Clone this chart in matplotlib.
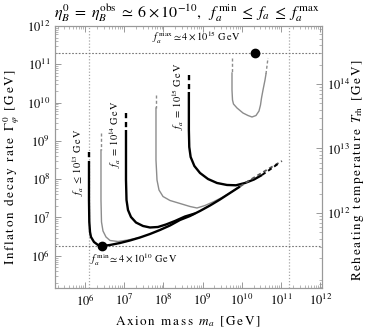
import numpy as np
import matplotlib
matplotlib.use("Agg")
import matplotlib.pyplot as plt
from matplotlib.ticker import LogLocator, LogFormatterMathtext, NullFormatter, FixedLocator

plt.rcParams['font.family'] = ['STIXGeneral', 'DejaVu Serif']
plt.rcParams['mathtext.fontset'] = 'stix'

# ---- data (log10 values) ----
# f_a <= 1e13 GeV (black)
A_top_x = [6.102, 6.102]
A_top_y = [8.710, 8.423]
A_x = [6.102, 6.102, 6.110, 6.128, 6.153, 6.230, 6.332, 6.434, 6.638, 6.893, 7.148, 7.403,
       7.658, 7.913, 8.168, 8.423, 8.679, 8.934, 9.189, 9.444, 9.699, 9.954]
A_y = [8.423, 7.457, 6.883, 6.621, 6.491, 6.360, 6.282, 6.256, 6.282, 6.334, 6.400, 6.478,
       6.569, 6.674, 6.791, 6.935, 7.039, 7.170, 7.313, 7.470, 7.640, 7.809]
A_end_x = [9.954, 10.209, 10.464, 10.719, 11.025]
A_end_y = [7.809, 7.979, 8.136, 8.292, 8.475]

# intermediate f_a (gray)
B_top_x = [6.408, 6.408]
B_top_y = [9.206, 8.762]
B_x = [6.408, 6.408, 6.421, 6.459, 6.536, 6.638, 6.842, 7.097, 7.403]
B_y = [8.762, 7.457, 6.883, 6.648, 6.491, 6.400, 6.373, 6.413, 6.478]

# f_a = 1e14 GeV (black)
C_top_x = [7.046, 7.046]
C_top_y = [9.728, 9.285]
C_x = [7.046, 7.046, 7.059, 7.097, 7.173, 7.301, 7.480, 7.658, 7.862, 8.066, 8.296, 8.551, 8.806]
C_y = [9.285, 7.979, 7.457, 7.196, 7.013, 6.869, 6.778, 6.739, 6.752, 6.817, 6.909, 7.026, 7.104]

# intermediate f_a (gray)
E_top_x = [7.811, 7.811]
E_top_y = [10.198, 9.859]
E_x = [7.811, 7.811, 7.837, 7.888, 7.990, 8.168, 8.423, 8.679, 8.857, 9.061, 9.265, 9.469, 9.699, 9.954]
E_y = [9.859, 8.501, 7.979, 7.718, 7.548, 7.444, 7.366, 7.287, 7.248, 7.313, 7.405, 7.509, 7.640, 7.809]

# f_a = 1e15 GeV (black)
D_top_x = [8.650, 8.650]
D_top_y = [10.721, 10.277]
D_x = [8.650, 8.650, 8.660, 8.695, 8.790, 8.934, 9.138, 9.367, 9.622, 9.852, 10.082, 10.311, 10.515]
D_y = [10.277, 9.285, 8.841, 8.580, 8.345, 8.162, 8.005, 7.901, 7.849, 7.841, 7.901, 7.992, 8.110]
D_end_x = [10.515, 10.719, 10.974]
D_end_y = [8.110, 8.253, 8.436]

# near f_a^max (gray)
F_top1_x = [9.750, 9.750]
F_top1_y = [11.164, 10.773]
F_x = [9.750, 9.750, 9.763, 9.788, 9.878, 10.031, 10.158, 10.260, 10.362, 10.439, 10.477, 10.503,
       10.541, 10.592, 10.617]
F_y = [10.773, 10.329, 10.068, 9.963, 9.859, 9.728, 9.663, 9.624, 9.663, 9.781, 9.937, 10.120,
       10.329, 10.590, 10.747]
F_top2_x = [10.617, 10.668]
F_top2_y = [10.747, 11.164]

dot_max = (10.337, 11.295)
dot_min = (6.434, 6.256)
vlines = [6.102, 11.20]
hlines = [11.295, 6.256]

xlim = (5.235, 12.046)
ylim = (5.159, 12.0)
x_ticks = [6, 7, 8, 9, 10, 11, 12]
y_ticks = [6, 7, 8, 9, 10, 11, 12]
tlim = (10.837, 14.899)
t_ticks = [12, 13, 14]

def sp(s):
    return r'\,'.join(r'\mathrm{%s}' % c for c in s)

fig = plt.figure(figsize=(3.74, 3.36), dpi=100)
ax = fig.add_axes([55/374, 1-288/336, 267/374, 262/336])
ax.set_xscale('log'); ax.set_yscale('log')
ax.set_xlim(10**xlim[0], 10**xlim[1]); ax.set_ylim(10**ylim[0], 10**ylim[1])

def P(x, y):
    return 10**np.asarray(x), 10**np.asarray(y)

gray = '#8c8c8c'
dash = (0, (2.2, 1.6))
# reference lines
for v in vlines:
    ax.axvline(10**v, color='#a8a8a8', ls=(0, (1, 1.5)), lw=0.9, zorder=1)
for h in hlines:
    ax.axhline(10**h, color='#777777', ls=(0, (1.5, 1.5)), lw=0.8, zorder=1)

# gray curves
for tx, ty, cx, cy in [(B_top_x, B_top_y, B_x, B_y), (E_top_x, E_top_y, E_x, E_y)]:
    ax.plot(*P(tx, ty), color=gray, lw=1.0, ls=dash, zorder=2)
    ax.plot(*P(cx, cy), color=gray, lw=1.0, zorder=2)
ax.plot(*P(F_top1_x, F_top1_y), color=gray, lw=1.0, ls=dash, zorder=2)
ax.plot(*P(F_x, F_y), color=gray, lw=1.0, zorder=2)
ax.plot(*P(F_top2_x, F_top2_y), color=gray, lw=1.0, ls=dash, zorder=2)

# black curves
for tx, ty, cx, cy in [(A_top_x, A_top_y, A_x, A_y), (C_top_x, C_top_y, C_x, C_y),
                       (D_top_x, D_top_y, D_x, D_y)]:
    ax.plot(*P(tx, ty), color='black', lw=1.7, ls=(0, (2.2, 1.6)), zorder=3)
    ax.plot(*P(cx, cy), color='black', lw=1.7, zorder=3, solid_capstyle='butt')
ax.plot(*P(A_end_x, A_end_y), color='#555555', lw=1.3, ls=dash, zorder=3)
ax.plot(*P(D_end_x, D_end_y), color='black', lw=1.4, ls=dash, zorder=3)

ax.plot(10**dot_max[0], 10**dot_max[1], 'o', color='black', ms=6, zorder=4)
ax.plot(10**dot_min[0], 10**dot_min[1], 'o', color='black', ms=6, zorder=4)

# texts
GeV = sp('GeV')
ax.text(10**8.857, 10**11.687, r'$f_a^{\,\rm max}\simeq 4\times 10^{15}\ ' + GeV + '$',
        fontsize=7.5, ha='center', va='center')
ax.text(10**6.128, 10**5.89, r'$f_a^{\,\rm min}\simeq 4\times 10^{10}\ ' + GeV + '$',
        fontsize=7.5, ha='left', va='center')
ax.text(10**5.82, 10**8.449, r'$f_a\;\leq\;10^{13}\ ' + GeV + '$', fontsize=7.5,
        rotation=90, ha='center', va='center')
ax.text(10**6.765, 10**9.18, r'$f_a\;=\;10^{14}\ ' + GeV + '$', fontsize=7.5,
        rotation=90, ha='center', va='center')
ax.text(10**8.372, 10**10.17, r'$f_a\;=\;10^{15}\ ' + GeV + '$', fontsize=7.5,
        rotation=90, ha='center', va='center')

fig.text(0.5, 1-13/336,
         r'$\eta_B^{0}\;=\;\eta_B^{\rm obs}\;\simeq\;6\times10^{-10},\ \ f_a^{\,\rm min}\;\leq\;f_a\;\leq\;f_a^{\,\rm max}$',
         fontsize=11.5, ha='center', va='center')

fig.text(188/374, 1-322/336,
         '$' + sp('Axion') + r'\ \ ' + sp('mass') + r'\ \ m_a\ \ ' + sp('[GeV]') + '$',
         fontsize=9.5, ha='center', va='center')
fig.text(12/374, 1-167/336,
         '$' + sp('Inflaton') + r'\ \ ' + sp('decay') + r'\ \ ' + sp('rate') + r'\ \ \Gamma_\varphi^{\,0}\ \ ' + sp('[GeV]') + '$',
         fontsize=9.5, ha='center', va='center', rotation=90)
fig.text(358/374, 1-170/336,
         '$' + sp('Reheating') + r'\ \ ' + sp('temperature') + r'\ \ T_{\rm rh}\ \ ' + sp('[GeV]') + '$',
         fontsize=9.5, ha='center', va='center', rotation=90)

for s in ax.spines.values():
    s.set_color('#999999'); s.set_linewidth(0.8)
ax.xaxis.set_major_locator(FixedLocator([10.0**t for t in x_ticks]))
ax.xaxis.set_minor_locator(LogLocator(base=10, subs=np.arange(2, 10), numticks=20))
ax.yaxis.set_major_locator(FixedLocator([10.0**t for t in y_ticks]))
ax.yaxis.set_minor_locator(LogLocator(base=10, subs=np.arange(2, 10), numticks=20))
ax.xaxis.set_major_formatter(LogFormatterMathtext())
ax.yaxis.set_major_formatter(LogFormatterMathtext())
ax.xaxis.set_minor_formatter(NullFormatter())
ax.yaxis.set_minor_formatter(NullFormatter())
ax.tick_params(which='both', direction='in', color='#999999', labelsize=9, top=True, right=False)
ax.tick_params(which='major', length=4, width=0.7)
ax.tick_params(which='minor', length=2, width=0.5)

ax2 = ax.twinx()
ax2.set_yscale('log')
ax2.set_ylim(10**tlim[0], 10**tlim[1])
ax2.yaxis.set_major_locator(FixedLocator([10.0**t for t in t_ticks]))
ax2.yaxis.set_minor_locator(LogLocator(base=10, subs=np.arange(2, 10), numticks=20))
ax2.yaxis.set_major_formatter(LogFormatterMathtext())
ax2.yaxis.set_minor_formatter(NullFormatter())
ax2.tick_params(which='both', direction='in', color='#999999', labelsize=9)
ax2.tick_params(which='major', length=4, width=0.7)
ax2.tick_params(which='minor', length=2, width=0.5)
ax2.tick_params(axis='x', which='both', labelbottom=False, labeltop=False, bottom=False, top=False)
for s in ax2.spines.values():
    s.set_color('#999999'); s.set_linewidth(0.8)

fig.savefig('out.png', dpi=100)
